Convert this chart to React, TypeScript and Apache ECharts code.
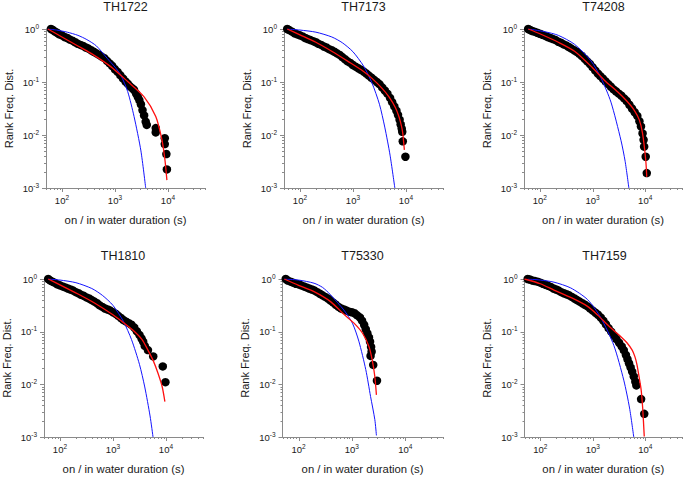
import React, { useEffect, useRef } from 'react';
import * as echarts from 'echarts';

const TITLES = ['TH1722', 'TH7173', 'T74208', 'TH1810', 'T75330', 'TH7159'];
const X_NAME = 'on / in water duration (s)';
const Y_NAME = 'Rank Freq. Dist.';
const X_MIN = 50;
const X_MAX = 50000;
const Y_MIN = 0.001;
const Y_MAX = 1;
const MANTISSAS = [1, 2, 3, 4, 5, 6, 7, 8, 9];
const X_DECADES = [10, 100, 1000, 10000];
const Y_DECADES = [0.001, 0.01, 0.1];

// ---- TH1722 ----
const TH1722_DOTS = [[62,1],[68,0.955],[74,0.891],[81,0.851],[89,0.794],[100,0.759],[112,0.708],[126,0.676],[141,0.631],[158,0.603],[178,0.562],[200,0.525],[224,0.501],[251,0.479],[282,0.447],[316,0.427],[355,0.398],[398,0.372],[447,0.347],[501,0.324],[562,0.302],[631,0.282],[708,0.251],[794,0.224],[891,0.2],[1000,0.174],[1122,0.155],[1259,0.135],[1413,0.117],[1585,0.102],[1738,0.0933],[1905,0.0832],[2138,0.0759],[2291,0.0708],[2512,0.0603],[2692,0.0525],[2884,0.0457],[3090,0.038],[3311,0.0295],[3548,0.0234],[3802,0.0178],[3981,0.0155],[5888,0.0135],[5888,0.0112],[8710,0.00871],[8710,0.00676],[9333,0.00437],[9550,0.00224]];
const TH1722_FIT = [[54,1],[100,0.708],[200,0.479],[355,0.347],[832,0.195],[1738,0.102],[3548,0.0525],[5888,0.0224],[7586,0.00871],[8710,0.00363],[9550,0.00141]];
const TH1722_EXP = [[54,1],[79,0.955],[126,0.871],[200,0.759],[295,0.631],[447,0.479],[724,0.275],[1000,0.191],[1288,0.135],[1738,0.0661],[2291,0.0224],[3090,0.00501],[3802,0.001]];

// ---- TH7173 ----
const TH7173_DOTS = [[57.5,1],[63,0.955],[71,0.891],[79,0.832],[89,0.794],[100,0.759],[112,0.724],[126,0.676],[141,0.646],[158,0.617],[178,0.589],[200,0.562],[224,0.525],[251,0.501],[282,0.468],[316,0.447],[355,0.417],[398,0.398],[447,0.372],[501,0.347],[562,0.324],[631,0.295],[708,0.269],[794,0.245],[891,0.229],[1000,0.209],[1122,0.195],[1259,0.182],[1413,0.17],[1585,0.158],[1778,0.145],[1995,0.132],[2239,0.12],[2512,0.11],[2818,0.1],[3162,0.0912],[3548,0.0794],[3981,0.0692],[4467,0.0603],[5012,0.0501],[5495,0.0417],[6026,0.0347],[6607,0.0288],[7079,0.024],[7586,0.0195],[7943,0.0158],[8318,0.0132],[8511,0.0115],[8710,0.00759],[9772,0.00389]];
const TH7173_FIT = [[57.5,1],[100,0.776],[200,0.562],[398,0.38],[832,0.24],[1585,0.158],[2291,0.117],[3548,0.0759],[4786,0.0525],[6310,0.0331],[7413,0.0219],[8318,0.0141],[8710,0.0107],[9333,0.00525]];
const TH7173_EXP = [[57.5,1],[100,0.955],[200,0.871],[398,0.708],[631,0.55],[1000,0.372],[1585,0.2],[2291,0.0955],[3162,0.038],[3981,0.0141],[5012,0.00417],[6166,0.001]];

// ---- T74208 ----
const T74208_DOTS = [[60,1],[66,0.955],[72,0.912],[79,0.891],[89,0.851],[100,0.813],[112,0.776],[126,0.741],[141,0.708],[158,0.676],[178,0.646],[200,0.617],[224,0.575],[251,0.55],[282,0.513],[316,0.49],[355,0.457],[398,0.427],[447,0.398],[501,0.372],[562,0.339],[631,0.309],[708,0.275],[794,0.245],[891,0.219],[1000,0.191],[1122,0.166],[1259,0.145],[1413,0.129],[1585,0.115],[1778,0.102],[1995,0.0912],[2239,0.0813],[2512,0.0724],[2818,0.0661],[3162,0.0603],[3548,0.055],[3981,0.049],[4467,0.0437],[5012,0.0372],[5623,0.0316],[6310,0.0269],[7079,0.0229],[7762,0.0182],[8318,0.0145],[8913,0.0107],[9333,0.00813],[9550,0.00603],[10233,0.00389],[10715,0.00191]];
const T74208_FIT = [[60,1],[100,0.813],[224,0.562],[457,0.38],[1000,0.186],[1698,0.107],[3020,0.0646],[4467,0.0437],[6166,0.0295],[7762,0.0191],[8913,0.0107],[10233,0.00339],[10715,0.00162]];
const T74208_EXP = [[60,1],[123,0.891],[224,0.759],[457,0.513],[933,0.251],[1445,0.12],[2239,0.0417],[3467,0.00794],[4169,0.00316],[4898,0.001]];

// ---- TH1810 ----
const TH1810_DOTS = [[60,1],[66,0.933],[72,0.891],[79,0.851],[89,0.794],[100,0.759],[112,0.724],[126,0.692],[141,0.661],[158,0.631],[178,0.603],[200,0.562],[224,0.537],[251,0.501],[282,0.479],[316,0.447],[355,0.427],[398,0.398],[447,0.372],[501,0.347],[562,0.316],[631,0.295],[708,0.275],[794,0.263],[891,0.251],[1000,0.234],[1122,0.219],[1259,0.2],[1413,0.182],[1585,0.166],[1778,0.155],[1995,0.145],[2239,0.135],[2512,0.12],[2818,0.102],[3162,0.0871],[3467,0.0741],[3715,0.0646],[3981,0.0537],[4571,0.0447],[5754,0.0339],[8710,0.0219],[9772,0.011]];
const TH1810_FIT = [[60,1],[100,0.776],[224,0.513],[457,0.347],[1000,0.209],[1585,0.148],[2570,0.1],[3548,0.0708],[4571,0.0447],[5754,0.0282],[7079,0.0162],[8511,0.00891],[9550,0.00468]];
const TH1810_EXP = [[60,1],[100,0.955],[200,0.851],[398,0.661],[631,0.49],[1000,0.316],[1585,0.155],[2239,0.0708],[3162,0.024],[3981,0.00891],[5012,0.00251],[5702,0.001]];

// ---- T75330 ----
const T75330_DOTS = [[57.5,1],[63,0.933],[71,0.891],[79,0.851],[89,0.813],[100,0.794],[112,0.759],[126,0.724],[141,0.692],[158,0.661],[178,0.631],[200,0.603],[224,0.562],[251,0.525],[282,0.49],[316,0.457],[355,0.427],[398,0.389],[447,0.355],[501,0.324],[562,0.295],[631,0.275],[708,0.263],[794,0.251],[891,0.24],[1000,0.234],[1122,0.224],[1259,0.204],[1413,0.186],[1549,0.162],[1698,0.135],[1820,0.112],[1950,0.0933],[2089,0.0776],[2188,0.0646],[2291,0.0513],[2344,0.0417],[2239,0.0347],[2512,0.0234],[2951,0.0117]];
const T75330_FIT = [[54,1],[100,0.759],[195,0.575],[398,0.372],[708,0.214],[1096,0.145],[1585,0.0933],[2089,0.0525],[2399,0.0295],[2692,0.0141],[2884,0.00631]];
const T75330_EXP = [[54,1],[100,0.955],[195,0.832],[282,0.692],[398,0.501],[708,0.257],[1023,0.145],[1349,0.0661],[1820,0.0191],[2239,0.00589],[2692,0.00214],[2884,0.00107]];

// ---- TH7159 ----
const TH7159_DOTS = [[57.5,1],[63,0.977],[71,0.933],[79,0.912],[89,0.891],[100,0.851],[112,0.813],[126,0.776],[141,0.741],[158,0.708],[178,0.661],[200,0.631],[224,0.603],[251,0.562],[282,0.537],[316,0.513],[355,0.49],[398,0.457],[447,0.427],[501,0.398],[562,0.372],[631,0.347],[708,0.324],[794,0.302],[891,0.275],[1000,0.251],[1122,0.229],[1259,0.209],[1413,0.186],[1585,0.162],[1778,0.138],[1995,0.117],[2239,0.1],[2512,0.0851],[2818,0.0724],[3162,0.0617],[3548,0.0525],[3890,0.0447],[4266,0.0363],[4571,0.0302],[4898,0.0251],[5248,0.0209],[5623,0.0174],[6026,0.0141],[6457,0.0112],[6761,0.00955],[8318,0.00525],[9550,0.00275]];
const TH7159_FIT = [[50,1],[100,0.813],[182,0.617],[398,0.437],[794,0.302],[1259,0.204],[1862,0.138],[2512,0.105],[3388,0.0813],[4467,0.0617],[5623,0.0447],[6310,0.0339],[6918,0.024],[7586,0.0141],[8318,0.00794],[8913,0.00355],[9550,0.00102]];
const TH7159_EXP = [[57.5,1],[100,0.955],[182,0.871],[380,0.676],[794,0.407],[1413,0.186],[2512,0.055],[3890,0.012],[5012,0.00355],[6026,0.001]];

const DOTS = [TH1722_DOTS, TH7173_DOTS, T74208_DOTS, TH1810_DOTS, T75330_DOTS, TH7159_DOTS];
const FITS = [TH1722_FIT, TH7173_FIT, T74208_FIT, TH1810_FIT, T75330_FIT, TH7159_FIT];
const EXPS = [TH1722_EXP, TH7173_EXP, T74208_EXP, TH1810_EXP, T75330_EXP, TH7159_EXP];

// tick positions (axis decoration)
const X_TICKS: number[] = [];
X_DECADES.forEach((d) => MANTISSAS.forEach((m) => { const v = m * d; if (v >= X_MIN && v <= X_MAX) X_TICKS.push(v); }));
const Y_TICKS: number[] = [];
Y_DECADES.forEach((d) => MANTISSAS.forEach((m) => Y_TICKS.push(m * d)));
Y_TICKS.push(1);

// layout
const GRIDS = [
  { left: 46, top: 29, width: 159, height: 159 },
  { left: 284, top: 29, width: 159, height: 159 },
  { left: 524, top: 29, width: 159, height: 159 },
  { left: 43, top: 279, width: 160, height: 158 },
  { left: 282.5, top: 279, width: 160, height: 158 },
  { left: 524.5, top: 279, width: 160, height: 158 },
];
const TITLE_Y = [7, 7, 7, 256, 256, 256];

const FONT = '"Liberation Sans", Arial, Helvetica, sans-serif';
const AXIS_COLOR = '#8a8a8a';
const TEXT_COLOR = '#1a1a1a';

const isPow10 = (v: number) => {
  const l = Math.log10(v);
  return Math.abs(l - Math.round(l)) < 1e-6;
};
const powLabel = (v: number) => {
  if (!isPow10(v)) return '';
  return '{b|10}{s|' + Math.round(Math.log10(v)) + '}';
};
const richLabel = {
  b: { fontSize: 9.5, color: TEXT_COLOR, fontFamily: FONT, lineHeight: 13 },
  s: { fontSize: 6.5, color: TEXT_COLOR, fontFamily: FONT, lineHeight: 6, verticalAlign: 'top' },
};

export default function App() {
  const ref = useRef<HTMLDivElement>(null);
  useEffect(() => {
    if (!ref.current) return;
    const chart = echarts.init(ref.current, undefined, { renderer: 'svg' });
    const grid: any[] = [];
    const xAxis: any[] = [];
    const yAxis: any[] = [];
    const series: any[] = [];
    const graphic: any[] = [];

    GRIDS.forEach((g, i) => {
      grid.push({ ...g, containLabel: false });
      xAxis.push({
        type: 'log', gridIndex: i, min: X_MIN, max: X_MAX, logBase: 10,
        name: X_NAME, nameLocation: 'middle', nameGap: 26,
        nameTextStyle: { fontSize: 11.3, color: TEXT_COLOR, fontFamily: FONT },
        axisLine: { show: true, lineStyle: { color: AXIS_COLOR, width: 1 } },
        axisTick: { show: false }, minorTick: { show: false },
        splitLine: { show: false }, minorSplitLine: { show: false },
        axisLabel: { formatter: powLabel, rich: richLabel, margin: 6 },
      });
      yAxis.push({
        type: 'log', gridIndex: i, min: Y_MIN, max: Y_MAX, logBase: 10,
        name: Y_NAME, nameLocation: 'middle', nameGap: 32,
        nameTextStyle: { fontSize: 11, color: TEXT_COLOR, fontFamily: FONT },
        axisLine: { show: true, lineStyle: { color: AXIS_COLOR, width: 1 } },
        axisTick: { show: false }, minorTick: { show: false },
        splitLine: { show: false }, minorSplitLine: { show: false },
        axisLabel: { formatter: powLabel, rich: richLabel, margin: 7 },
      });
      series.push({
        type: 'scatter', xAxisIndex: i, yAxisIndex: i, data: DOTS[i],
        symbol: 'circle', symbolSize: 8.5, itemStyle: { color: '#000', opacity: 1 }, silent: true,
      });
      series.push({
        type: 'line', xAxisIndex: i, yAxisIndex: i, data: EXPS[i], showSymbol: false,
        smooth: 0.25, lineStyle: { color: '#1414ff', width: 1 }, silent: true,
      });
      series.push({
        type: 'line', xAxisIndex: i, yAxisIndex: i, data: FITS[i], showSymbol: false,
        smooth: 0.25, lineStyle: { color: '#ff1010', width: 1.3 }, silent: true,
      });
      series.push({
        type: 'custom', xAxisIndex: i, yAxisIndex: i, clip: false, silent: true,
        data: X_TICKS.map((v) => [v, Y_MIN]), encode: { x: 0, y: 1 },
        renderItem: (_p: any, api: any) => {
          const v = api.value(0);
          const p = api.coord([v, api.value(1)]);
          const len = isPow10(v) ? 4 : 2;
          const x = Math.round(p[0]) + 0.5;
          return { type: 'line', shape: { x1: x, y1: p[1], x2: x, y2: p[1] + len }, style: { stroke: AXIS_COLOR, lineWidth: 1 } };
        },
      });
      series.push({
        type: 'custom', xAxisIndex: i, yAxisIndex: i, clip: false, silent: true,
        data: Y_TICKS.map((v) => [X_MIN, v]), encode: { x: 0, y: 1 },
        renderItem: (_p: any, api: any) => {
          const v = api.value(1);
          const p = api.coord([api.value(0), v]);
          const len = isPow10(v) ? 4 : 2;
          const y = Math.round(p[1]) + 0.5;
          return { type: 'line', shape: { x1: p[0] - len, y1: y, x2: p[0], y2: y }, style: { stroke: AXIS_COLOR, lineWidth: 1 } };
        },
      });
      graphic.push({
        type: 'text', x: g.left + g.width / 2, y: TITLE_Y[i], silent: true,
        style: {
          text: TITLES[i], fill: TEXT_COLOR, font: '12.5px ' + FONT,
          align: 'center', verticalAlign: 'middle', textAlign: 'center', textVerticalAlign: 'middle',
        },
      });
    });

    chart.setOption({
      animation: false,
      backgroundColor: '#ffffff',
      textStyle: { fontFamily: FONT },
      grid, xAxis, yAxis, series, graphic,
    });
    return () => chart.dispose();
  }, []);
  return <div ref={ref} style={{ position: 'absolute', left: 0, top: 0, width: 685, height: 478 }} />;
}
